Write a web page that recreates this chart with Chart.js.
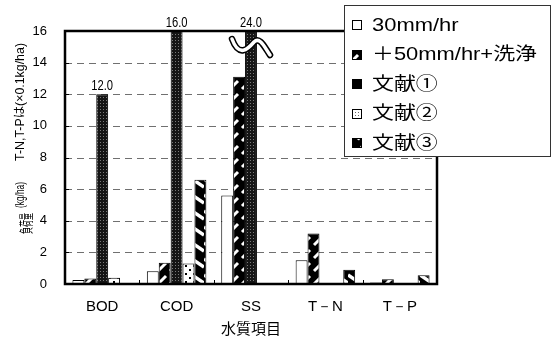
<!DOCTYPE html>
<html>
<head>
<meta charset="utf-8">
<script src="https://cdn.jsdelivr.net/npm/chart.js@4/dist/chart.umd.min.js"></script>
<style>
  html, body { margin: 0; padding: 0; background: #fff; }
  #wrap { width: 552px; height: 337px; }
</style>
</head>
<body>
<div id="wrap"><canvas id="c" width="552" height="337"></canvas></div>
<script>
// Pollutant load per category (kg/ha; T-N and T-P in units of 0.1 kg/ha)
const categories = ['BOD', 'COD', 'SS', 'T－N', 'T－P'];
const seriesNames = ['30mm/hr', '＋50mm/hr+洗浄', '文献①', '文献②', '文献③'];
const rain30 = [0.25, 0.8, 5.6, 1.5, 0.1];
const rain50Wash = [0.35, 1.35, 13.1, 3.2, 0.3];
const ref1 = [12.0, 16.0, 24.0, null, null];
const ref2 = [0.4, 1.3, null, null, null];
const ref3 = [null, 6.6, null, 0.9, 0.55];
const yTicks = [0, 2, 4, 6, 8, 10, 12, 14, 16];
const yTitleParts = ['負荷量', '(kg/ha)', 'T-N,T-Pは(×0.1kg/ha)'];
const xTitle = '水質項目';

const canvas = document.getElementById('c');
const ctx0 = canvas.getContext('2d');

function tile(w, h, paint) {
  const c = document.createElement('canvas');
  c.width = w; c.height = h;
  paint(c.getContext('2d'), w, h);
  return ctx0.createPattern(c, 'repeat');
}

// Hatch and dot fills
const slashFill = tile(12, 13, (g, w, h) => {
  g.fillStyle = '#000'; g.fillRect(0, 0, w, h);
  g.strokeStyle = '#fff'; g.lineWidth = 3;
  g.beginPath(); g.moveTo(2, 11); g.lineTo(10, 3); g.stroke();
});
const darkDotFill = tile(3, 3, (g, w, h) => {
  g.fillStyle = '#151515'; g.fillRect(0, 0, w, h);
  g.fillStyle = '#7a7a7a'; g.fillRect(1, 1, 1, 1);
});
const sparseDotFill = tile(8, 8, (g, w, h) => {
  g.fillStyle = '#fff'; g.fillRect(0, 0, w, h);
  g.fillStyle = '#000'; g.fillRect(1, 1, 2, 2); g.fillRect(5, 5, 2, 2);
});
const fineDotFill = tile(3, 3, (g, w, h) => {
  g.fillStyle = '#fff'; g.fillRect(0, 0, w, h);
  g.fillStyle = '#666'; g.fillRect(1, 1, 1, 1);
});
const backslashFill = tile(12, 16, (g, w, h) => {
  g.fillStyle = '#000'; g.fillRect(0, 0, w, h);
  g.strokeStyle = '#fff'; g.lineWidth = 3.5;
  g.beginPath(); g.moveTo(0, 3); g.lineTo(12, 11); g.stroke();
});

const fills = ['#fff', slashFill, darkDotFill, sparseDotFill, backslashFill];
const legendFills = ['#fff', slashFill, '#000', fineDotFill, backslashFill];
const seriesData = [rain30, rain50Wash, ref1, ref2, ref3];

const datasets = seriesData.map((d, i) => ({
  label: seriesNames[i],
  data: d,
  backgroundColor: fills[i],
  legendFill: legendFills[i],
  showValue: i === 2,
  borderColor: '#000',
  borderWidth: 1,
  barPercentage: 1.0,
  categoryPercentage: 0.8
}));

const LATIN = '"Liberation Sans", Arial, sans-serif';
const JP = '"Liberation Sans", "Noto Sans CJK JP", sans-serif';

const decor = {
  id: 'decor',
  beforeDatasetsDraw(chart) {
    const { ctx, chartArea: a, scales: { y } } = chart;
    ctx.save();
    ctx.strokeStyle = '#707070';
    ctx.lineWidth = 1;
    ctx.setLineDash([7, 5]);
    yTicks.forEach(v => {
      if (v === y.min || v === y.max) return;
      const py = Math.round(y.getPixelForValue(v)) + 0.5;
      ctx.beginPath(); ctx.moveTo(a.left, py); ctx.lineTo(a.right, py); ctx.stroke();
    });
    ctx.restore();
  },
  afterDatasetsDraw(chart) {
    const { ctx, chartArea: a, scales: { y } } = chart;
    ctx.save();
    // inner tick marks
    ctx.strokeStyle = '#000'; ctx.lineWidth = 1;
    yTicks.forEach(v => {
      const py = Math.round(y.getPixelForValue(v)) + 0.5;
      ctx.beginPath(); ctx.moveTo(a.left, py); ctx.lineTo(a.left + 4, py); ctx.stroke();
    });
    const cw = (a.right - a.left) / categories.length;
    for (let i = 1; i < categories.length; i++) {
      const px = Math.round(a.left + i * cw) + 0.5;
      ctx.beginPath(); ctx.moveTo(px, a.bottom); ctx.lineTo(px, a.bottom - 4); ctx.stroke();
    }
    // plot frame
    ctx.lineWidth = 2.5;
    ctx.strokeRect(a.left, a.top, a.right - a.left, a.bottom - a.top);

    // value labels and axis-break marks
    chart.data.datasets.forEach((ds, di) => {
      const meta = chart.getDatasetMeta(di);
      ds.data.forEach((v, i) => {
        if (v == null) return;
        const el = meta.data[i];
        const top = Math.max(el.y, a.top);
        if (v > y.max) {
          const cx = el.x, y0 = a.top + 15;
          ctx.beginPath();
          ctx.moveTo(cx - 19, y0 - 7);
          ctx.bezierCurveTo(cx - 12, y0 + 12, cx - 3, y0 + 3, cx + 3, y0 - 4);
          ctx.bezierCurveTo(cx + 9, y0 - 10, cx + 14, y0 + 2, cx + 19, y0 + 9);
          ctx.setLineDash([]);
          ctx.lineCap = 'round';
          ctx.strokeStyle = '#000'; ctx.lineWidth = 6.5; ctx.stroke();
          ctx.strokeStyle = '#fff'; ctx.lineWidth = 3.5; ctx.stroke();
        }
        if (ds.showValue) {
          ctx.save();
          ctx.font = '14px ' + LATIN;
          ctx.fillStyle = '#000';
          ctx.textBaseline = 'alphabetic';
          ctx.translate(el.x, top - 4);
          ctx.scale(0.8, 1);
          ctx.textAlign = 'center';
          ctx.fillText(v.toFixed(1), 0, 0);
          ctx.restore();
        }
      });
    });
    ctx.restore();
  },
  afterDraw(chart) {
    const { ctx } = chart;
    ctx.save();
    // legend box
    const bx = 344.5, by = 5.5, bw = 206, bh = 151;
    ctx.fillStyle = '#fff';
    ctx.fillRect(bx, by, bw, bh);
    ctx.strokeStyle = '#333'; ctx.lineWidth = 1;
    ctx.strokeRect(bx, by, bw, bh);
    ctx.font = '18px ' + JP;
    const widest = Math.max(...chart.data.datasets.map(d => ctx.measureText(d.label).width));
    const sx = 165 / widest;
    chart.data.datasets.forEach((ds, i) => {
      const cy = 25 + i * 29.5;
      ctx.fillStyle = ds.legendFill;
      ctx.fillRect(352, Math.round(cy - 5), 10, 10);
      ctx.strokeStyle = '#000';
      ctx.strokeRect(352.5, Math.round(cy - 5) + 0.5, 9, 9);
      ctx.save();
      ctx.fillStyle = '#000';
      ctx.textBaseline = 'middle';
      ctx.textAlign = 'left';
      ctx.translate(372, cy + 1);
      ctx.scale(sx, 1);
      ctx.fillText(ds.label, 0, 0);
      ctx.restore();
    });
    // vertical axis title
    const runs = [
      { t: yTitleParts[0], f: '14px "Noto Sans CJK JP", sans-serif', x: 31, y: 234, len: 21 },
      { t: yTitleParts[1], f: '12px ' + JP, x: 24, y: 208, len: 26 },
      { t: yTitleParts[2], f: '12px ' + JP, x: 24, y: 161, len: 118 }
    ];
    ctx.fillStyle = '#000';
    runs.forEach(r => {
      ctx.save();
      ctx.font = r.f;
      const w = ctx.measureText(r.t).width;
      ctx.translate(r.x, r.y);
      ctx.rotate(-Math.PI / 2);
      ctx.scale(r.len / w, 1);
      ctx.textAlign = 'left';
      ctx.textBaseline = 'alphabetic';
      ctx.fillText(r.t, 0, 0);
      ctx.restore();
    });
    ctx.restore();
  }
};

new Chart(canvas, {
  type: 'bar',
  data: { labels: categories, datasets },
  options: {
    responsive: false,
    animation: false,
    devicePixelRatio: 1,
    layout: { padding: { top: 31, right: 115, left: 0, bottom: 0 } },
    plugins: { legend: { display: false }, tooltip: { enabled: false } },
    scales: {
      x: {
        grid: { display: false, drawTicks: false },
        border: { display: false },
        ticks: { color: '#000', font: { family: LATIN, size: 15 }, padding: 14 },
        title: {
          display: true, text: xTitle, color: '#000',
          font: { family: '"Noto Sans CJK JP", sans-serif', size: 15 },
          padding: { top: 0, bottom: 0 }
        },
        afterFit(s) { s.height = 53; }
      },
      y: {
        min: 0, max: 16,
        grid: { display: false, drawTicks: false },
        border: { display: false },
        ticks: { stepSize: 2, color: '#000', font: { family: LATIN, size: 13 }, padding: 18 },
        afterBuildTicks(s) { s.ticks = yTicks.map(v => ({ value: v })); },
        afterFit(s) { s.width = 65; }
      }
    }
  },
  plugins: [decor]
});
</script>
</body>
</html>
